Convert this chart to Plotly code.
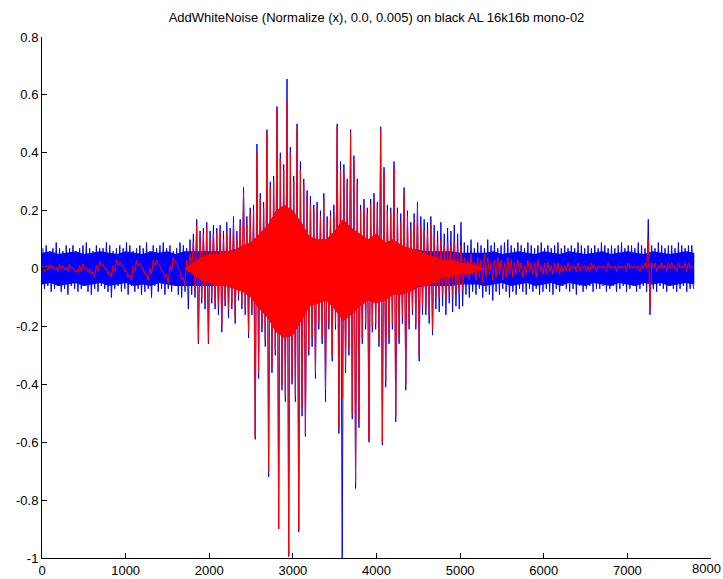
import plotly.graph_objects as go

# Waveform summarised per 40-sample bin: upper and lower extreme of each bin (in hundredths).
CHUNK = 40

noisy_hi = [
    7, 8, 6, 7, 9, 7, 6, 8, 7, 8, 6, 7, 8, 9, 7, 6, 8, 7, 7, 9,
    8, 6, 7, 8, 7, 9, 8, 6, 7, 8, 7, 9, 6, 8, 7, 8, 9, 7, 8, 6,
    7, 9, 8, 7, 10,
    12, 17, 13, 14, 16, 13, 15, 14, 15, 13, 16, 14, 18, 13, 17, 28, 18, 21, 22, 43,
    26, 23, 48, 30, 32, 56, 40, 36, 65.5, 42, 32, 50, 37, 31, 27, 25, 22, 23, 20, 26,
    18, 20, 22, 50, 37, 36, 31, 48, 39, 31, 22, 24, 21, 24, 26, 23, 49, 35, 22, 21,
    37, 21, 19, 28, 20, 16, 19, 23, 18, 17, 16, 18, 15, 13, 16, 12, 14, 13, 15, 12, 16,
    9, 8, 10, 7, 9, 8, 7, 10, 8, 9, 7, 8, 9, 10, 8, 7, 9, 8, 7, 9,
    8, 7, 8, 9, 7, 8, 7, 8, 9, 7, 8, 7, 8, 7, 9, 8, 7, 8, 7, 8,
    7, 9, 8, 7, 8, 7, 8, 9, 7, 8, 8, 7, 9, 8, 7, 17, 8, 7, 9, 8,
    7, 8, 8, 7, 9, 8, 7, 8, 8,
]
noisy_lo = [
    -7, -6, -8, -7, -6, -8, -7, -9, -6, -7, -8, -7, -6, -8, -9, -7, -8, -6, -7, -8,
    -10, -7, -6, -8, -7, -9, -6, -8, -7, -9, -8, -7, -10, -6, -8, -7, -9, -7, -8, -6,
    -9, -10, -8, -14, -9,
    -10, -26, -12, -14, -26, -12, -14, -16, -22, -13, -17, -14, -19, -11, -14, -16, -24, -16, -59, -38,
    -22, -27, -72, -36, -30, -90, -42, -46, -99.5, -40, -46, -91, -51, -58, -30, -27, -38, -21, -26, -46,
    -21, -32, -21, -57, -100, -36, -30, -52, -76, -55, -26, -21, -60, -22, -21, -27, -61, -41, -26, -21,
    -53, -26, -19, -42, -21, -16, -21, -32, -16, -16, -19, -23, -14, -15, -13, -16, -12, -15, -13, -14, -13,
    -9, -10, -8, -9, -7, -10, -8, -9, -11, -8, -9, -7, -8, -10, -8, -9, -7, -8, -9, -7,
    -8, -7, -9, -8, -7, -8, -9, -7, -8, -6, -7, -8, -7, -9, -6, -8, -7, -6, -8, -7,
    -7, -6, -8, -7, -6, -8, -7, -6, -8, -7, -6, -8, -7, -6, -8, -16, -7, -8, -6, -7,
    -8, -6, -7, -8, -7, -6, -8, -7, -7,
]
clean_hi = [
    1, 1, 1.5, 1, 0.5, 1.5, 1, 0.5, 1.5, 0.5, -0.5, 1, 1.5, 0.5, 0, -1, 1, 2.5, 1.5, 0,
    -1, 1, 3, 2.5, 1, -1, -2, 1, 3, 2, 0, -2, 0, 3, 3, 1, -1, -2, 1, 4,
    2, -1, -3, 3, 5,
    9, 15, 11, 12, 14, 10, 12, 12, 13, 10, 13, 11, 16, 11, 15, 26, 15, 19, 20, 40,
    24, 21, 47, 28, 30, 55, 38, 34, 58, 40, 30, 48, 34, 29, 25, 22, 20, 21, 18, 24,
    16, 18, 19, 49, 34, 33, 29, 47, 37, 29, 20, 22, 19, 22, 24, 21, 48, 33, 20, 19,
    35, 19, 16, 26, 18, 13, 16, 21, 15, 13, 12, 15, 11, 9, 10, 8, 9, 8, 9, 7, 8,
    4, 3, 5, 2, 4, 3, 5, 4, 2, 3, 4, 3, 2, 4, 3,
    2, 3, 2, 1, 3, 2, 2, 3, 1, 2, 2, 1, 2, 2, 1,
    1, 2, 1, 1, 2, 1, 1, 1, 2, 1, 1, 1, 1, 2, 1, 1, 1, 1, 1, 2, 1, 1, 1, 1, 2,
    10,
    2, 2, 1, 2, 1, 2, 2, 1, 2, 1, 2, 2, 1,
]
clean_lo = [
    -1, -0.5, 0, -0.5, -1, 0, -0.5, -1, 0, -1, -1.5, -1, 0, -1, -2, -3, -1, 1, 0, -2,
    -3, -1, 1, 1, -1, -3, -4, -1, 1, 0, -2, -4, -2, 1, 1, -1, -3, -5, -1, 2,
    0, -4, -6, -1, 0,
    -8, -25, -10, -12, -25, -10, -12, -13, -20, -11, -14, -12, -17, -9, -12, -14, -22, -14, -58, -36,
    -20, -25, -70, -34, -28, -90, -40, -44, -99, -38, -44, -90, -48, -57, -28, -24, -36, -19, -24, -42,
    -19, -30, -19, -55, -45, -34, -28, -50, -74, -52, -24, -19, -59, -20, -19, -25, -60, -39, -24, -19,
    -51, -24, -17, -40, -19, -14, -19, -30, -13, -13, -16, -21, -10, -10, -9, -11, -8, -9, -8, -9, -7,
    -3, -4, -2, -4, -3, -5, -3, -2, -4, -3, -2, -4, -3, -2, -3,
    -2, -1, -3, -2, -1, -2, -3, -1, -2, -2, -1, -2, -1, -2, -1,
    -1, -1, 0, -1, -1, 0, -1, -1, 0, -1, 0, 0, -1, 0, 0, -1, 0, 0, -1, 0, 0, 0, -1, 0, 0,
    -14,
    0, -1, 0, 0, -1, 0, 0, -1, 0, 0, -1, 0, 0,
]

# Solid core of each trace (where the samples overlap densely), every 100 samples, in hundredths.
CORE_STEP = 100
noisy_core_hi = [
    5.5, 6, 5, 5.5, 6, 5, 5.5, 6, 5.5, 5, 6, 5.5, 5, 6, 5.5, 6, 5, 6,
    6, 6, 6, 6, 6, 6.5, 8, 9, 12, 15, 20, 22, 20, 16, 11, 10, 10, 13, 17, 14,
    12, 10, 12, 9, 10, 8, 7, 6.5, 6, 6, 6, 6, 5.5, 5.5, 5.5,
    5.5, 6, 5, 5.5, 6, 5.5, 5, 6, 5.5, 5, 6, 5.5, 5, 5.5, 6, 5, 5.5, 6, 5.5, 5, 6, 5.5, 5, 5.5, 6, 5.5,
]
noisy_core_lo = [
    -5.5, -5, -6, -5.5, -5, -6, -5.5, -5, -6, -5.5, -5, -6, -5.5, -6, -5, -5.5, -6, -6,
    -6, -6, -6, -6, -6, -7, -8, -10, -14, -17, -22, -24, -23, -18, -13, -12, -11, -14, -18, -16,
    -13, -11, -12, -11, -9, -9, -8, -6.5, -6, -6, -6, -6, -5.5, -5.5, -5.5,
    -6, -5.5, -5, -6, -5.5, -5, -6, -5.5, -5, -6, -5, -5.5, -6, -5, -5.5, -6, -5, -5.5, -6, -5, -5.5, -5, -6, -5.5, -5, -5.5,
]
clean_core_hi = [0] * 18 + [
    2, 4, 5, 5, 6, 6, 8, 9, 12, 15, 20, 22, 20, 16, 11, 10, 10, 13, 17, 14,
    12, 10, 12, 9, 10, 8, 7, 6, 5, 4, 3, 3, 2, 2, 1,
] + [0] * 26
clean_core_lo = [0] * 18 + [
    -2, -4, -5, -6, -6, -7, -8, -10, -14, -17, -22, -24, -23, -18, -13, -12, -11, -14, -18, -16,
    -13, -11, -12, -11, -9, -9, -8, -6, -6, -5, -3, -3, -2, -2, -1,
] + [0] * 26

x_tick_vals = [0, 1000, 2000, 3000, 4000, 5000, 6000, 7000, 8000]
x_tick_text = ["0", "1000", "2000", "3000", "4000", "5000", "6000", "7000", "8000"]
y_tick_vals = [-1, -0.8, -0.6, -0.4, -0.2, 0, 0.2, 0.4, 0.6, 0.8]
y_tick_text = ["-1", "-0.8", "-0.6", "-0.4", "-0.2", "0", "0.2", "0.4", "0.6", "0.8"]

assert len(noisy_hi) == len(noisy_lo) == len(clean_hi) == len(clean_lo)
assert len(noisy_core_hi) == len(noisy_core_lo) == len(clean_core_hi) == len(clean_core_lo)


def envelope_path(hi, lo):
    """Alternate between each bin's maximum and minimum, as a dense plot renders it."""
    xs, ys = [], []
    for k, (h, l) in enumerate(zip(hi, lo)):
        xs += [k * CHUNK + 10, k * CHUNK + 30]
        ys += [h / 100.0, l / 100.0]
    return xs, ys


def core_area(hi, lo):
    """Closed outline of the dense core: upper edge left to right, lower edge back."""
    cx = [j * CORE_STEP for j in range(len(hi))]
    xs = cx + cx[::-1]
    ys = [h / 100.0 for h in hi] + [l / 100.0 for l in lo[::-1]]
    return xs, ys


FONT = "Liberation Sans, Arial, Helvetica, sans-serif"
BLUE = "#0000ff"
RED = "#ff0000"

fig = go.Figure()
series = ((noisy_hi, noisy_lo, noisy_core_hi, noisy_core_lo, BLUE),
          (clean_hi, clean_lo, clean_core_hi, clean_core_lo, RED))
for hi, lo, chi, clo, color in series:
    ax, ay = core_area(chi, clo)
    fig.add_trace(go.Scatter(x=ax, y=ay, mode="lines", fill="toself", fillcolor=color,
                             line=dict(color=color, width=0), hoverinfo="skip"))
    px, py = envelope_path(hi, lo)
    fig.add_trace(go.Scatter(x=px, y=py, mode="lines",
                             line=dict(color=color, width=1, simplify=False),
                             hoverinfo="skip"))

axis_common = dict(showline=True, linecolor="black", linewidth=1, mirror=False,
                   ticks="inside", ticklen=5, tickcolor="black", tickwidth=1,
                   showgrid=False, zeroline=False,
                   tickfont=dict(family=FONT, size=13, color="black"))

# the last x label sits at the figure's right edge, so it is placed as an annotation
x_labels_axis = x_tick_text[:-1] + [" "]

fig.update_layout(
    width=723, height=579,
    margin=dict(l=42, r=12, t=37, b=21, autoexpand=False),
    paper_bgcolor="white", plot_bgcolor="white",
    showlegend=False,
    title=dict(text="AddWhiteNoise (Normalize (x), 0.0, 0.005) on black AL 16k16b mono-02",
               font=dict(family=FONT, size=13, color="black"),
               x=0.5, xref="paper", xanchor="center",
               y=1 - 17 / 579, yref="container", yanchor="middle"),
    xaxis=dict(range=[0, 8000], tickvals=x_tick_vals, ticktext=x_labels_axis, **axis_common),
    yaxis=dict(range=[-1, 0.8], tickvals=y_tick_vals, ticktext=y_tick_text, **axis_common),
)
fig.add_annotation(x=x_tick_vals[-1], xref="x", xanchor="right", xshift=12,
                   y=0, yref="paper", yanchor="top", yshift=-1,
                   text=x_tick_text[-1], showarrow=False,
                   font=dict(family=FONT, size=13, color="black"))

fig.write_html("out.html")
